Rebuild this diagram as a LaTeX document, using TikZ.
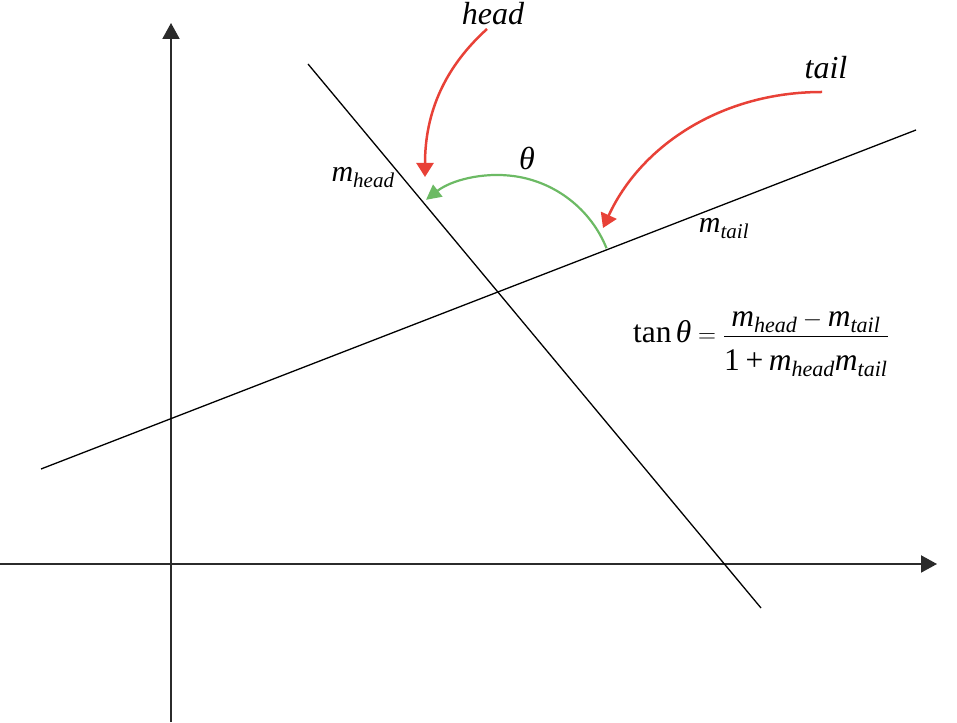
\documentclass[tikz,border=0pt]{standalone}
\usepackage{amsmath}
\usepackage{fontspec}
\setmainfont{Liberation Serif}
\usetikzlibrary{arrows.meta}
\definecolor{axisgray}{RGB}{43,43,43}
\definecolor{arrowred}{RGB}{232,65,55}
\definecolor{arcgreen}{RGB}{108,186,100}
\newcommand\mvar[1]{\text{\itshape m}_{\text{\itshape #1}}}
\tikzset{
  axisline/.style={draw=axisgray, line width=2pt, -{Triangle[length=16pt,width=17pt]}},
  slopeline/.style={draw=black, line width=1.3pt},
  pointer/.style={draw=arrowred, line width=2.5pt, -{Triangle[length=14pt,width=17pt]}},
  anglearc/.style={draw=arcgreen, line width=2.2pt, -{Triangle[length=15pt,width=15pt]}},
  lbl/.style={inner sep=0pt, font=\fontsize{32}{38}\selectfont\itshape},
  mlbl/.style={inner sep=0pt, font=\fontsize{30}{36}\selectfont},
  flbl/.style={inner sep=0pt, font=\fontsize{31.5}{38}\selectfont},
}
\begin{document}
\begin{tikzpicture}[x=1pt,y=1pt]
\useasboundingbox (0,0) rectangle (957,722);
% axes
\coordinate (ybot) at (171,0);
\coordinate (ytop) at (171,699);
\coordinate (xleft) at (0,158);
\coordinate (xright) at (937,158);
\draw[axisline] (ybot) -- (ytop);
\draw[axisline] (xleft) -- (xright);
% lines
\coordinate (h1) at (308,658);
\coordinate (h2) at (761,114);
\coordinate (t1) at (41,253);
\coordinate (t2) at (916,592);
\draw[slopeline] (h1) -- (h2);
\draw[slopeline] (t1) -- (t2);
% angle arc
\coordinate (arcstart) at (606.5,473.8);
\draw[anglearc] (arcstart) arc[start angle=22, end angle=128, radius=117];
% labels
\node[lbl] (headlbl) at (493,708) {head};
\node[lbl] (taillbl) at (826,654) {tail};
\node[lbl] (theta) at (527,564) {θ};
\node[mlbl] (mhead) at (363,544) {$\mvar{head}$};
\node[mlbl] (mtail) at (724,493) {$\mvar{tail}$};
\node[flbl, anchor=base west] (formula) at (633,379) {$\text{tan}\,\text{\itshape θ} = \dfrac{\mvar{head}-\mvar{tail}}{\rule{0pt}{30pt}\text{1}\mathbin{\text{+}}\mvar{head}\mvar{tail}}$};
% red pointers
\coordinate (hs) at (487,693);
\coordinate (he) at (425,545);
\coordinate (ts) at (822,630);
\coordinate (te) at (603,494);
\draw[pointer] (hs) .. controls (445,655) and (425,610) .. (he);
\draw[pointer] (ts) .. controls (720,630) and (640,575) .. (te);
\end{tikzpicture}
\end{document}
